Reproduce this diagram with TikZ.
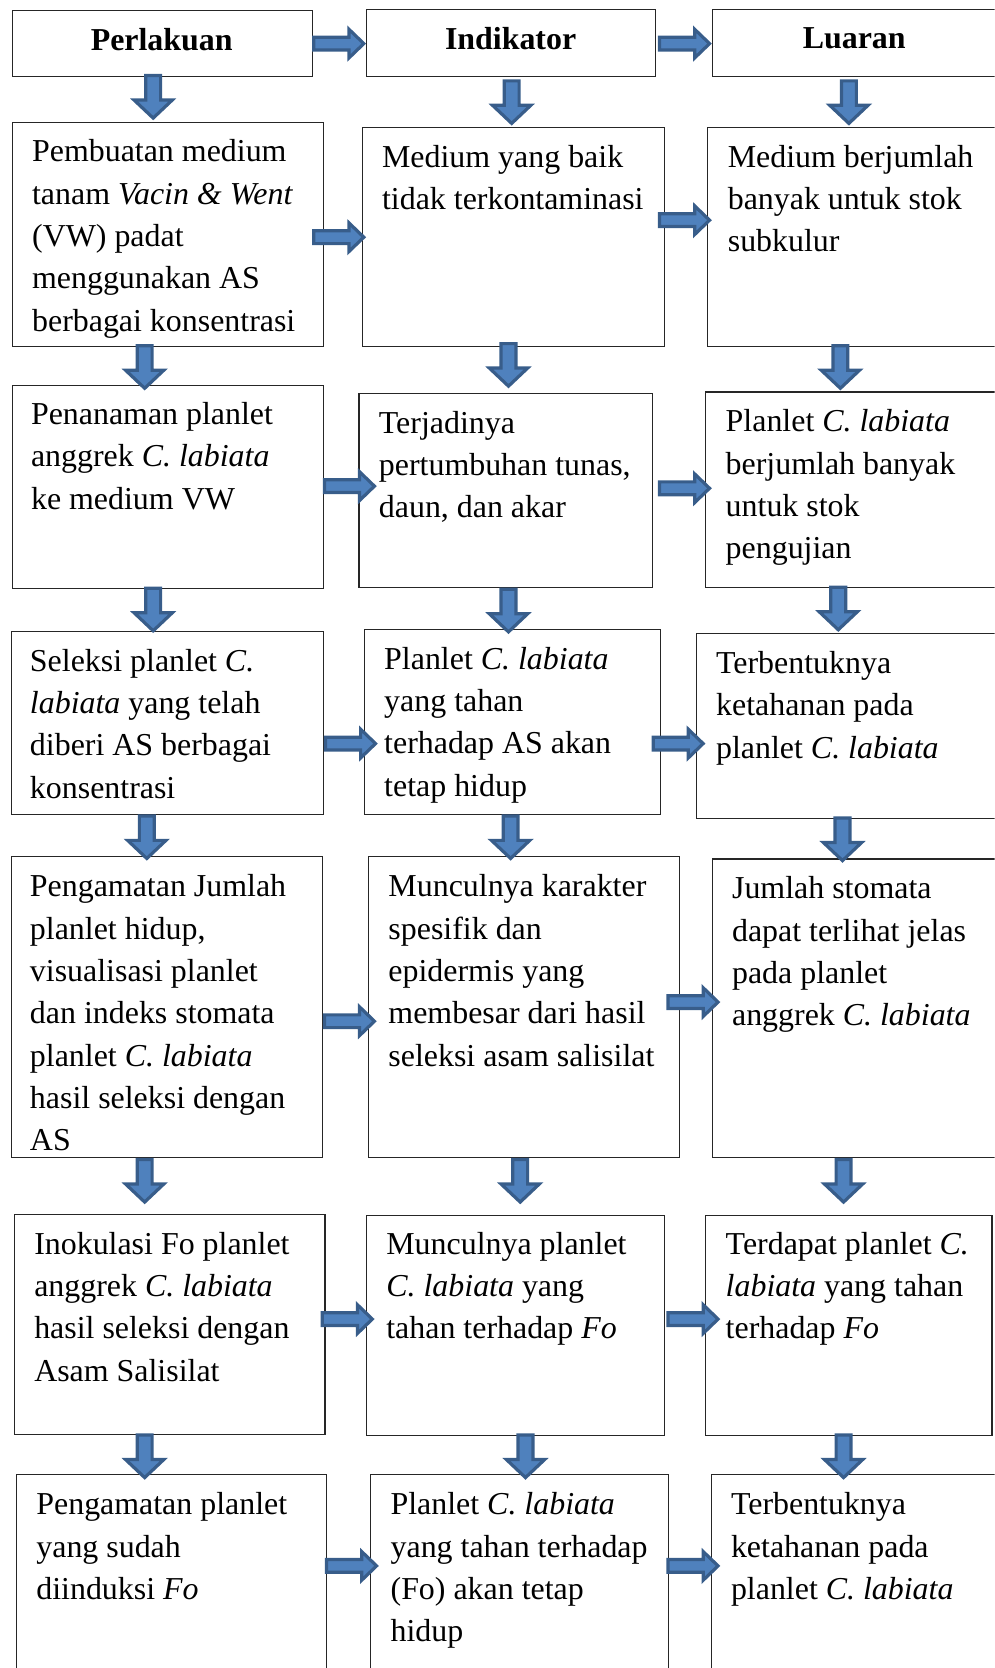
\documentclass[tikz,border=0pt]{standalone}
\usepackage{fontspec}
\setmainfont{Liberation Serif}
\definecolor{arrfill}{HTML}{4F81BD}
\definecolor{arrline}{HTML}{385D8A}
\begin{document}
\begin{tikzpicture}[x=1pt,y=-1pt,
  box/.style={draw=black!85, line width=1pt, anchor=north west, inner sep=0pt},
  txt/.style={anchor=north west, inner sep=0pt, align=left, font=\fontsize{30}{39.8}\selectfont, yshift=-2pt},
  hdr/.style={inner sep=0pt, font=\fontsize{30}{36}\selectfont\bfseries},
  arr/.style={fill=arrfill, draw=arrline, line width=3pt, line join=miter},
  rarr/.pic={\draw[arr] (0,-6)--(33,-6)--(33,-13.5)--(47,0)--(33,13.5)--(33,6)--(0,6)--cycle;},
  darr/.pic={\draw[arr] (-7,0)--(-7,23)--(-18,23)--(0,40)--(18,23)--(7,23)--(7,0)--cycle;}]
\useasboundingbox (0,0) rectangle (935,1568);
\clip (0,0) rectangle (935,1568);
% header boxes
\node[box, minimum width=282, minimum height=62] (a1) at (11,9) {};
\node[box, minimum width=272, minimum height=63] (b1) at (344,8) {};
\node[box, minimum width=291, minimum height=63] (c1) at (669,8) {};
\node[hdr] (a1t) at (152,37) {Perlakuan};
\node[hdr] (b1t) at (480,36) {Indikator};
\node[hdr] (c1t) at (803,36) {Luaran};
% row 2
\node[box, minimum width=293, minimum height=210] (a2) at (11,115) {};
\node[box, minimum width=284, minimum height=206] (b2) at (340,119) {};
\node[box, minimum width=295, minimum height=206] (c2) at (665,119) {};
\node[txt] (a2t) at (30,122) {\strut Pembuatan medium\\tanam \textit{Vacin \& Went}\\(VW) padat\\menggunakan AS\\berbagai konsentrasi};
\node[txt] (b2t) at (359,127) {\strut Medium yang baik\\tidak terkontaminasi};
\node[txt] (c2t) at (684,127) {\strut Medium berjumlah\\banyak untuk stok\\subkulur};
% row 3
\node[box, minimum width=293, minimum height=191] (a3) at (11,362) {};
\node[box, minimum width=276, minimum height=183] (b3) at (337,369) {};
\node[box, minimum width=297, minimum height=184] (c3) at (663,368) {};
\node[txt] (a3t) at (29,369) {\strut Penanaman planlet\\anggrek \textit{C. labiata}\\ke medium VW};
\node[txt] (b3t) at (356,377) {\strut Terjadinya\\pertumbuhan tunas,\\daun, dan akar};
\node[txt] (c3t) at (682,376) {\strut Planlet \textit{C. labiata}\\berjumlah banyak\\untuk stok\\pengujian};
% row 4
\node[box, minimum width=294, minimum height=172] (a4) at (10,593) {};
\node[box, minimum width=278, minimum height=174] (b4) at (342,591) {};
\node[box, minimum width=306, minimum height=174] (c4) at (654,595) {};
\node[txt] (a4t) at (28,601) {\strut Seleksi planlet \textit{C.}\\\textit{labiata} yang telah\\diberi AS berbagai\\konsentrasi};
\node[txt] (b4t) at (361,599) {\strut Planlet \textit{C. labiata}\\yang tahan\\terhadap AS akan\\tetap hidup};
\node[txt] (c4t) at (673,603) {\strut Terbentuknya\\ketahanan pada\\planlet \textit{C. labiata}};
% row 5
\node[box, minimum width=293, minimum height=283] (a5) at (10,805) {};
\node[box, minimum width=292, minimum height=283] (b5) at (346,805) {};
\node[box, minimum width=291, minimum height=281] (c5) at (669,807) {};
\node[txt] (a5t) at (28,813) {\strut Pengamatan Jumlah\\planlet hidup,\\visualisasi planlet\\dan indeks stomata\\planlet \textit{C. labiata}\\hasil seleksi dengan\\AS};
\node[txt] (b5t) at (365,813) {\strut Munculnya karakter\\spesifik dan\\epidermis yang\\membesar dari hasil\\seleksi asam salisilat};
\node[txt] (c5t) at (688,815) {\strut Jumlah stomata\\dapat terlihat jelas\\pada planlet\\anggrek \textit{C. labiata}};
% row 6
\node[box, minimum width=292, minimum height=207] (a6) at (13,1141) {};
\node[box, minimum width=280, minimum height=207] (b6) at (344,1142) {};
\node[box, minimum width=269, minimum height=207] (c6) at (663,1142) {};
\node[txt] (a6t) at (32,1149) {\strut Inokulasi Fo planlet\\anggrek \textit{C. labiata}\\hasil seleksi dengan\\Asam Salisilat};
\node[txt] (b6t) at (363,1149) {\strut Munculnya planlet\\\textit{C. labiata} yang\\tahan terhadap \textit{Fo}};
\node[txt] (c6t) at (682,1149) {\strut Terdapat planlet \textit{C.}\\\textit{labiata} yang tahan\\terhadap \textit{Fo}};
% row 7
\node[box, minimum width=291, minimum height=220] (a7) at (15,1386) {};
\node[box, minimum width=280, minimum height=220] (b7) at (348,1386) {};
\node[box, minimum width=292, minimum height=220] (c7) at (668,1386) {};
\node[txt] (a7t) at (34,1394) {\strut Pengamatan planlet\\yang sudah\\diinduksi \textit{Fo}};
\node[txt] (b7t) at (367,1394) {\strut Planlet \textit{C. labiata}\\yang tahan terhadap\\(Fo) akan tetap\\hidup};
\node[txt] (c7t) at (687,1394) {\strut Terbentuknya\\ketahanan pada\\planlet \textit{C. labiata}};
% horizontal arrows
\pic at (295,41) {rarr};
\pic at (620,41) {rarr};
\pic at (295,223) {rarr};
\pic at (620,207) {rarr};
\pic at (305,457) {rarr};
\pic at (620,459) {rarr};
\pic at (306,699) {rarr};
\pic at (614,699) {rarr};
\pic at (305,960) {rarr};
\pic at (628,942) {rarr};
\pic at (303,1240) {rarr};
\pic at (628,1240) {rarr};
\pic at (307,1472) {rarr};
\pic at (628,1472) {rarr};
% vertical arrows
\pic at (144,71) {darr};
\pic at (481,76) {darr};
\pic at (798,76) {darr};
\pic at (136,325) {darr};
\pic at (478,323) {darr};
\pic at (790,325) {darr};
\pic at (144,553) {darr};
\pic at (478,554) {darr};
\pic at (788,552) {darr};
\pic at (138,767) {darr};
\pic at (480,767) {darr};
\pic at (792,769) {darr};
\pic at (136,1090) {darr};
\pic at (489,1090) {darr};
\pic at (793,1090) {darr};
\pic at (136,1349) {darr};
\pic at (494,1349) {darr};
\pic at (793,1349) {darr};
\end{tikzpicture}
\end{document}
